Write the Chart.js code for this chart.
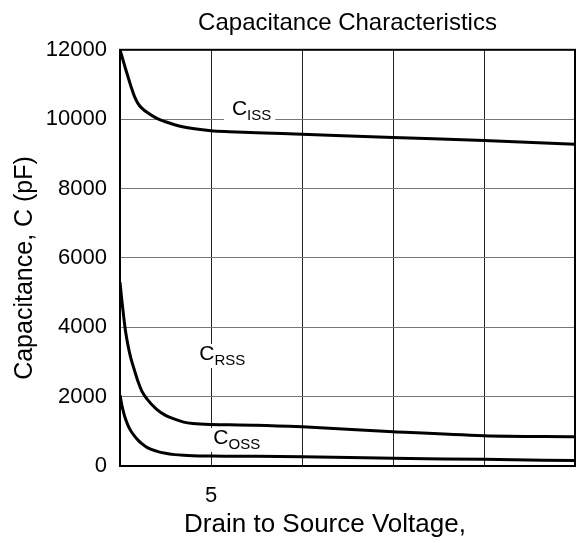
<!DOCTYPE html>
<html><head><meta charset="utf-8">
<script src="https://cdn.jsdelivr.net/npm/chart.js@4/dist/chart.umd.min.js"></script>
<style>html,body{margin:0;padding:0;background:#fff}#wrap{width:576px;height:543px}</style>
</head><body><div id="wrap"><canvas id="c" width="576" height="543"></canvas></div>
<script>
const voltage = [0, 0.1, 0.2, 0.3, 0.45, 0.6, 0.8, 1.0, 1.2, 1.5, 2.0, 2.5, 3.0, 3.5, 4.0, 5, 6, 7.5, 10, 15, 20, 25];
const ciss = [12000, 11820, 11640, 11460, 11200, 10950, 10650, 10440, 10320, 10190, 10030, 9925, 9840, 9775, 9730, 9668, 9640, 9610, 9565, 9470, 9385, 9280];
const crss = [5300, 4780, 4320, 3900, 3450, 3100, 2750, 2420, 2160, 1920, 1640, 1460, 1350, 1265, 1225, 1195, 1188, 1178, 1130, 990, 875, 845];
const coss = [2050, 1760, 1540, 1360, 1160, 1010, 860, 740, 645, 530, 430, 365, 328, 308, 297, 288, 284, 280, 268, 222, 192, 155];
const xTickLabels = {5: '5'};
const yTickValues = [0, 2000, 4000, 6000, 8000, 10000, 12000];
const curveLabelSubs = ['ISS', 'RSS', 'OSS'];
const curveLabelX = [6.15, 4.36, 5.13];
const curveLabelY = [10300, 3230, 810];
const chartTitle = 'Capacitance Characteristics';
const xTitle = 'Drain to Source Voltage,';
const yTitle = 'Capacitance, C (pF)';

const FONT = '"Liberation Sans", Arial, sans-serif';

const pts = arr => voltage.map((v, i) => ({x: v, y: arr[i]}));

const annot = {
  id: 'annot',
  beforeDatasetsDraw(chart) {
    const {ctx, scales: {x, y}} = chart;
    ctx.save();
    for (let i = 0; i < curveLabelSubs.length; i++) {
      const px = x.getPixelForValue(curveLabelX[i]);
      const py = y.getPixelForValue(curveLabelY[i]);
      ctx.font = '21px ' + FONT;
      const wC = ctx.measureText('C').width;
      ctx.font = '15px ' + FONT;
      const wS = ctx.measureText(curveLabelSubs[i]).width;
      ctx.fillStyle = '#fff';
      ctx.fillRect(px - 8, py - 10, wC + wS + 12, 24);
      ctx.fillStyle = '#000';
      ctx.textBaseline = 'middle';
      ctx.textAlign = 'left';
      ctx.font = '21px ' + FONT;
      ctx.fillText('C', px, py);
      ctx.font = '15px ' + FONT;
      ctx.fillText(curveLabelSubs[i], px + wC, py + 7);
    }
    ctx.restore();
  },
  afterDatasetsDraw(chart) {
    const {ctx, chartArea: a} = chart;
    ctx.save();
    ctx.strokeStyle = '#000';
    ctx.lineWidth = 2;
    ctx.strokeRect(a.left, a.top, a.right - a.left, a.bottom - a.top);
    ctx.restore();
  },
  afterDraw(chart) {
    const {ctx} = chart;
    ctx.save();
    ctx.fillStyle = '#000';
    ctx.textAlign = 'center';
    ctx.textBaseline = 'middle';
    ctx.font = '26px ' + FONT;
    ctx.fillText(xTitle, 325, 525);
    ctx.translate(25, 268);
    ctx.rotate(-Math.PI / 2);
    ctx.font = '25px ' + FONT;
    ctx.fillText(yTitle, 0, 0);
    ctx.restore();
  }
};

const ds = (label, arr) => ({
  label, data: pts(arr), borderColor: '#000', borderWidth: 3,
  pointRadius: 0, fill: false, cubicInterpolationMode: 'monotone'
});

new Chart(document.getElementById('c'), {
  type: 'line',
  data: { datasets: [ds('Ciss', ciss), ds('Crss', crss), ds('Coss', coss)] },
  options: {
    responsive: false, animation: false, devicePixelRatio: 1,
    layout: { padding: { left: 0, right: 1, top: 0, bottom: 0 } },
    plugins: {
      legend: { display: false },
      tooltip: { enabled: false },
      title: {
        display: true, text: chartTitle, fullSize: false, color: '#000',
        font: { family: FONT, size: 24, weight: 'normal' },
        padding: { top: 9, bottom: 12 }
      }
    },
    scales: {
      x: {
        type: 'linear', min: 0, max: 25,
        afterFit: s => { s.height = 77; s.paddingLeft = 0; s.paddingRight = 0; },
        grid: { color: '#222', lineWidth: 1, drawTicks: false },
        border: { display: false },
        ticks: {
          stepSize: 5, color: '#000', padding: 17, maxRotation: 0,
          font: { family: FONT, size: 22 },
          callback: v => xTickLabels[v] || ''
        }
      },
      y: {
        min: 0, max: 12000,
        afterFit: s => { s.width = 120; s.paddingTop = 0; s.paddingBottom = 0; },
        afterBuildTicks: s => { s.ticks = yTickValues.map(v => ({value: v})); },
        grid: { color: '#777', lineWidth: 1, drawTicks: false },
        border: { display: false },
        ticks: {
          color: '#000', padding: 13,
          font: { family: FONT, size: 22 },
          callback: v => String(v)
        }
      }
    }
  },
  plugins: [annot]
});
</script></body></html>
